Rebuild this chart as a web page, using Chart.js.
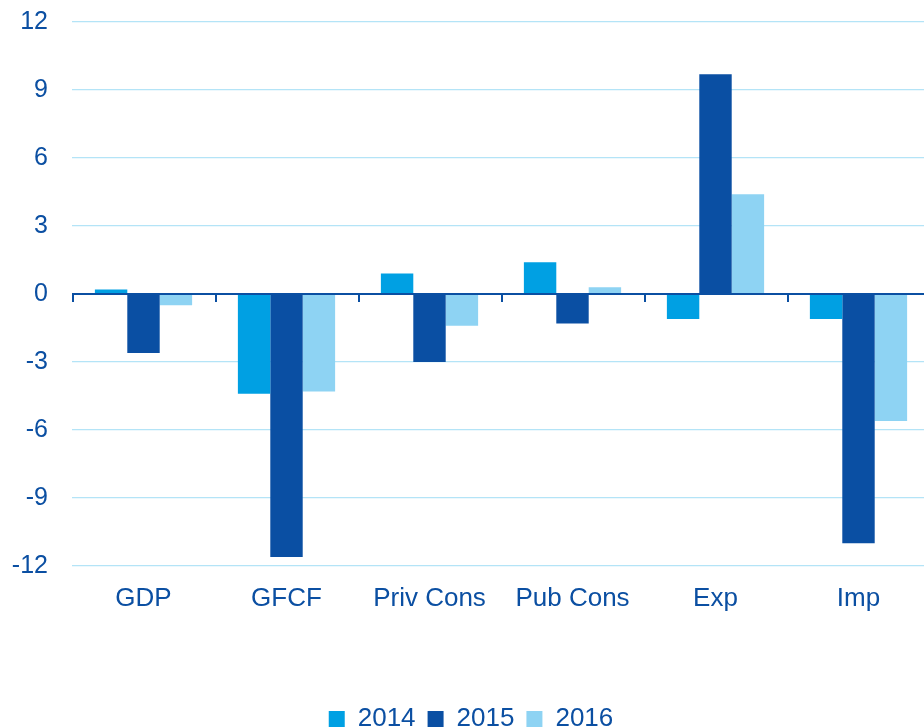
<!DOCTYPE html>
<html>
<head>
<meta charset="utf-8">
<script src="https://cdn.jsdelivr.net/npm/chart.js@4.4.1/dist/chart.umd.min.js"></script>
<style>
  html, body { margin: 0; padding: 0; background: #fff; overflow: hidden; }
  #wrap { width: 930px; height: 742px; position: relative; }
</style>
</head>
<body>
<div id="wrap"><canvas id="chart"></canvas></div>
<script>
'use strict';

// ─── Datos ────────────────────────────────────────────────────────────────────
const CATEGORIAS = ['GDP', 'GFCF', 'Priv Cons', 'Pub Cons', 'Exp', 'Imp'];
const SERIE_2014 = [0.2, -4.4, 0.9, 1.4, -1.1, -1.1];
const SERIE_2015 = [-2.6, -11.6, -3.0, -1.3, 9.7, -11.0];
const SERIE_2016 = [-0.5, -4.3, -1.4, 0.3, 4.4, -5.6];
const Y_MIN = -12;
const Y_MAX = 12;
const Y_PASO = 3;

const AZUL_TEXTO = '#0b4fa2';
const AZUL_CERO  = '#0b4fa2';
const REJILLA    = '#b4e4f7';
const FUENTE     = '"Liberation Sans", Arial, sans-serif';

// ─── Eje cero + marcas entre categorías ───────────────────────────────────────
const lineaCero = {
    id: 'lineaCero',
    afterDatasetsDraw(chart) {
        const x = chart.scales.x;
        const y = chart.scales.y;
        const ctx = chart.ctx;
        const y0 = y.getPixelForValue(0);
        const ancho = (x.right - x.left) / CATEGORIAS.length;
        ctx.save();
        ctx.strokeStyle = AZUL_CERO;
        ctx.lineWidth = 2;
        ctx.beginPath();
        ctx.moveTo(x.left, y0);
        ctx.lineTo(x.right, y0);
        for (let i = 0; i < CATEGORIAS.length; i++) {
            const xt = Math.round(x.left + i * ancho) + 1;
            ctx.moveTo(xt, y0);
            ctx.lineTo(xt, y0 + 8);
        }
        ctx.stroke();
        ctx.restore();
    }
};

const ctx = document.getElementById('chart').getContext('2d');
new Chart(ctx, {
    type: 'bar',
    data: {
        labels: CATEGORIAS,
        datasets: [
            { label: '2014', data: SERIE_2014, backgroundColor: '#00a0e3' },
            { label: '2015', data: SERIE_2015, backgroundColor: '#0a4fa3' },
            { label: '2016', data: SERIE_2016, backgroundColor: '#8ed3f3' },
        ],
    },
    options: {
        responsive: true,
        maintainAspectRatio: false,
        animation: false,
        layout: { padding: { top: 22, right: 0, bottom: 0, left: 12 } },
        datasets: {
            bar: { categoryPercentage: 0.68, barPercentage: 1.0, borderWidth: 0 },
        },
        plugins: {
            tooltip: { enabled: false },
            legend: {
                position: 'bottom',
                labels: {
                    color: AZUL_TEXTO,
                    font: { family: FUENTE, size: 26 },
                    boxWidth: 16,
                    boxHeight: 16,
                    padding: 12,
                },
            },
        },
        scales: {
            x: {
                grid: { display: false },
                border: { display: false },
                ticks: {
                    color: AZUL_TEXTO,
                    font: { family: FUENTE, size: 26 },
                    padding: 9,
                    maxRotation: 0,
                },
                afterFit(scale) { scale.height = 128; },
            },
            y: {
                min: Y_MIN,
                max: Y_MAX,
                border: { display: false },
                grid: {
                    color: (c) => (c.tick && c.tick.value === 0 ? 'rgba(0,0,0,0)' : REJILLA),
                    lineWidth: 1.2,
                    drawTicks: true,
                    tickLength: 24,
                    tickColor: 'rgba(0,0,0,0)',
                },
                ticks: {
                    stepSize: Y_PASO,
                    color: AZUL_TEXTO,
                    font: { family: FUENTE, size: 25 },
                    padding: 0,
                },
                afterFit(scale) { scale.width = 60; },
            },
        },
    },
    plugins: [lineaCero],
});
</script>
</body>
</html>
